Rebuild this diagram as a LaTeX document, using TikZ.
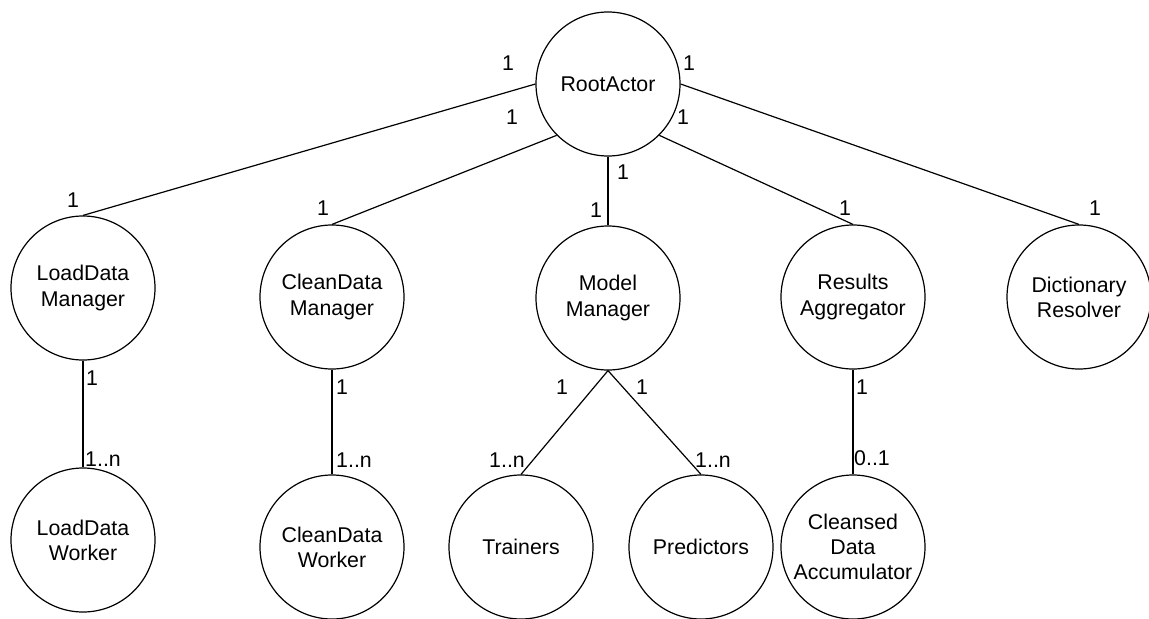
\documentclass[tikz,border=0pt]{standalone}
\usepackage{fontspec}
\setmainfont{Liberation Sans}
\tikzset{
  actor/.style={draw=black, line width=0.9pt, circle, minimum size=108pt, inner sep=0pt, align=center,
    font=\fontsize{16pt}{18.8pt}\selectfont},
  mult/.style={inner sep=0pt, font=\fontsize{16pt}{18.8pt}\selectfont},
  link/.style={draw=black, line width=0.9pt}
}
\begin{document}
\begin{tikzpicture}[x=0.75pt,y=-0.75pt] % one unit = one pixel of the reference
\useasboundingbox (0,0) rectangle (1149,618);

% actors
\node[actor] (root) at (608,84) {RootActor};
\node[actor] (ldm) at (83,288) {LoadData\\Manager};
\node[actor] (cdm) at (332,297) {CleanData\\Manager};
\node[actor] (mm) at (608,298) {Model\\Manager};
\node[actor] (ra) at (853,297) {Results\\Aggregator};
\node[actor] (dr) at (1079,297) {Dictionary\\Resolver};
\node[actor] (ldw) at (83,540) {LoadData\\Worker};
\node[actor] (cdw) at (332,547) {CleanData\\Worker};
\node[actor] (tr) at (521,547) {Trainers};
\node[actor] (pr) at (701,547) {Predictors};
\node[actor] (cda) at (853,547) {Cleansed\\Data\\Accumulator};

% links
\draw[link] (root.west) -- (ldm.north);
\draw[link] (root.south west) -- (cdm.north);
\draw[link] (root.south) -- (mm.north);
\draw[link] (root.south east) -- (ra.north);
\draw[link] (root.east) -- (dr.north);
\draw[link] (ldm.south) -- (ldw.north);
\draw[link] (cdm.south) -- (cdw.north);
\draw[link] (mm.south) -- (tr.north);
\draw[link] (mm.south) -- (pr.north);
\draw[link] (ra.south) -- (cda.north);

% multiplicities
\node[mult] (m1) at (508,63) {1};
\node[mult] (m2) at (512,117) {1};
\node[mult] (m3) at (623,172) {1};
\node[mult] (m4) at (683,117) {1};
\node[mult] (m5) at (689,63) {1};
\node[mult] (m6) at (73,200) {1};
\node[mult] (m7) at (323,208) {1};
\node[mult] (m8) at (596,210) {1};
\node[mult] (m9) at (845,208) {1};
\node[mult] (m10) at (1095,208) {1};
\node[mult] (m11) at (92,378) {1};
\node[mult] (m12) at (342,387) {1};
\node[mult] (m13) at (562,387) {1};
\node[mult] (m14) at (642,387) {1};
\node[mult] (m15) at (862,387) {1};
\node[mult] (m16) at (103,459) {1..n};
\node[mult] (m17) at (354,460) {1..n};
\node[mult] (m18) at (507,460) {1..n};
\node[mult] (m19) at (713,460) {1..n};
\node[mult] (m20) at (872,458) {0..1};
\end{tikzpicture}
\end{document}
